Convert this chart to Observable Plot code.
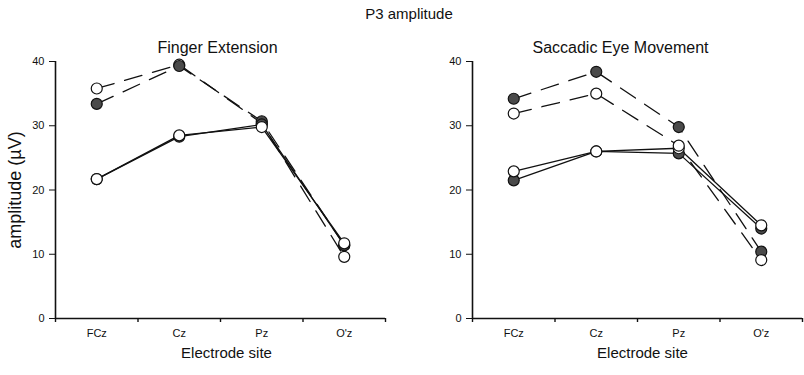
<!DOCTYPE html>
<html><head><meta charset="utf-8">
<script src="https://cdn.jsdelivr.net/npm/d3@7"></script>
<script src="https://cdn.jsdelivr.net/npm/@observablehq/plot@0.6"></script>
<style>
body{margin:0;background:#fff;font-family:"Liberation Sans",Arial,sans-serif;}
#wrap{position:relative;width:804px;height:375px;overflow:hidden;}
#title{position:absolute;top:5px;left:14px;width:790px;text-align:center;font-size:15px;color:#111;}
.panel{position:absolute;top:0;}
</style></head><body>
<div id="wrap"><div id="left" class="panel" style="left:0"></div><div id="right" class="panel" style="left:402px"></div><div id="title">P3 amplitude</div></div>
<script>
const sites = ["FCz", "Cz", "Pz", "O'z"];
const yTicks = [0, 10, 20, 30, 40];

const fingerDashedOpen   = [35.8, 39.5, 30.4, 9.6];
const fingerDashedFilled = [33.4, 39.3, 30.7, 11.4];
const fingerSolidFilled  = [21.7, 28.3, 30.2, 11.4];
const fingerSolidOpen    = [21.7, 28.5, 29.8, 11.7];

const saccadeSolidFilled  = [21.5, 26.0, 25.7, 14.0];
const saccadeSolidOpen    = [22.9, 26.0, 26.5, 14.5];
const saccadeDashedFilled = [34.2, 38.4, 29.8, 10.4];
const saccadeDashedOpen   = [31.9, 35.0, 26.9, 9.1];

const FILL = "#4a4a4a";

function rows(values) {
  return sites.map((s, i) => ({site: s, pos: i + 0.5, v: values[i]}));
}

function panel({title, series, marginLeft, marginRight, yLabel, titleDx, labelDx}) {
  const marks = [];
  for (const s of series) {
    marks.push(Plot.line(rows(s.values), {x: "pos", y: "v", stroke: "#111", strokeWidth: 1.3,
      strokeDasharray: s.dashed ? "18,11" : null}));
  }
  for (const s of series) {
    marks.push(Plot.dot(rows(s.values), {x: "pos", y: "v", r: 5.5, stroke: "#111", strokeWidth: 1.2,
      fill: s.filled ? FILL : "white"}));
  }
  return Plot.plot({
    width: 402, height: 375,
    marginTop: 61, marginBottom: 57, marginLeft, marginRight,
    style: {fontFamily: "'Liberation Sans', Arial, sans-serif", color: "#111", background: "transparent"},
    x: {domain: [0, sites.length], axis: null},
    y: {domain: [0, 40], axis: null},
    marks: [
      Plot.axisY({ticks: yTicks, tickSize: 6, tickPadding: 5, fontSize: 11, label: null}),
      Plot.axisX({ticks: d3.range(sites.length + 1), tickSize: 4, tickFormat: () => "", label: null, strokeWidth: 1.4}),
      Plot.axisX({ticks: sites.map((d, i) => i + 0.5), tickSize: 0, tickPadding: 11, fontSize: 11,
        tickFormat: d => sites[Math.round(d - 0.5)], label: null}),
      Plot.ruleY([0], {stroke: "#111", strokeWidth: 1.6}),
      Plot.ruleX([0], {stroke: "#111", strokeWidth: 1.6}),
      Plot.text([title], {frameAnchor: "top", lineAnchor: "middle", textAnchor: "middle", dy: -14, dx: titleDx, fontSize: 16, fill: "#111"}),
      Plot.text(["Electrode site"], {frameAnchor: "bottom", lineAnchor: "middle", textAnchor: "middle", dy: 35, dx: labelDx, fontSize: 15, fill: "#111"}),
      yLabel ? Plot.text([yLabel], {frameAnchor: "left", lineAnchor: "middle", textAnchor: "middle", dx: -40, rotate: -90, fontSize: 18, fill: "#111"}) : null,
      ...marks
    ]
  });
}

document.getElementById("left").append(panel({
  title: "Finger Extension",
  marginLeft: 55, marginRight: 17, yLabel: "amplitude (µV)", titleDx: -3, labelDx: 6,
  series: [
    {values: fingerDashedOpen, dashed: true, filled: false},
    {values: fingerDashedFilled, dashed: true, filled: true},
    {values: fingerSolidFilled, dashed: false, filled: true},
    {values: fingerSolidOpen, dashed: false, filled: false}
  ]
}));

document.getElementById("right").append(panel({
  title: "Saccadic Eye Movement",
  marginLeft: 70, marginRight: 2, yLabel: null, titleDx: -17, labelDx: 5,
  series: [
    {values: saccadeSolidFilled, dashed: false, filled: true},
    {values: saccadeSolidOpen, dashed: false, filled: false},
    {values: saccadeDashedFilled, dashed: true, filled: true},
    {values: saccadeDashedOpen, dashed: true, filled: false}
  ]
}));
</script>
</body></html>
